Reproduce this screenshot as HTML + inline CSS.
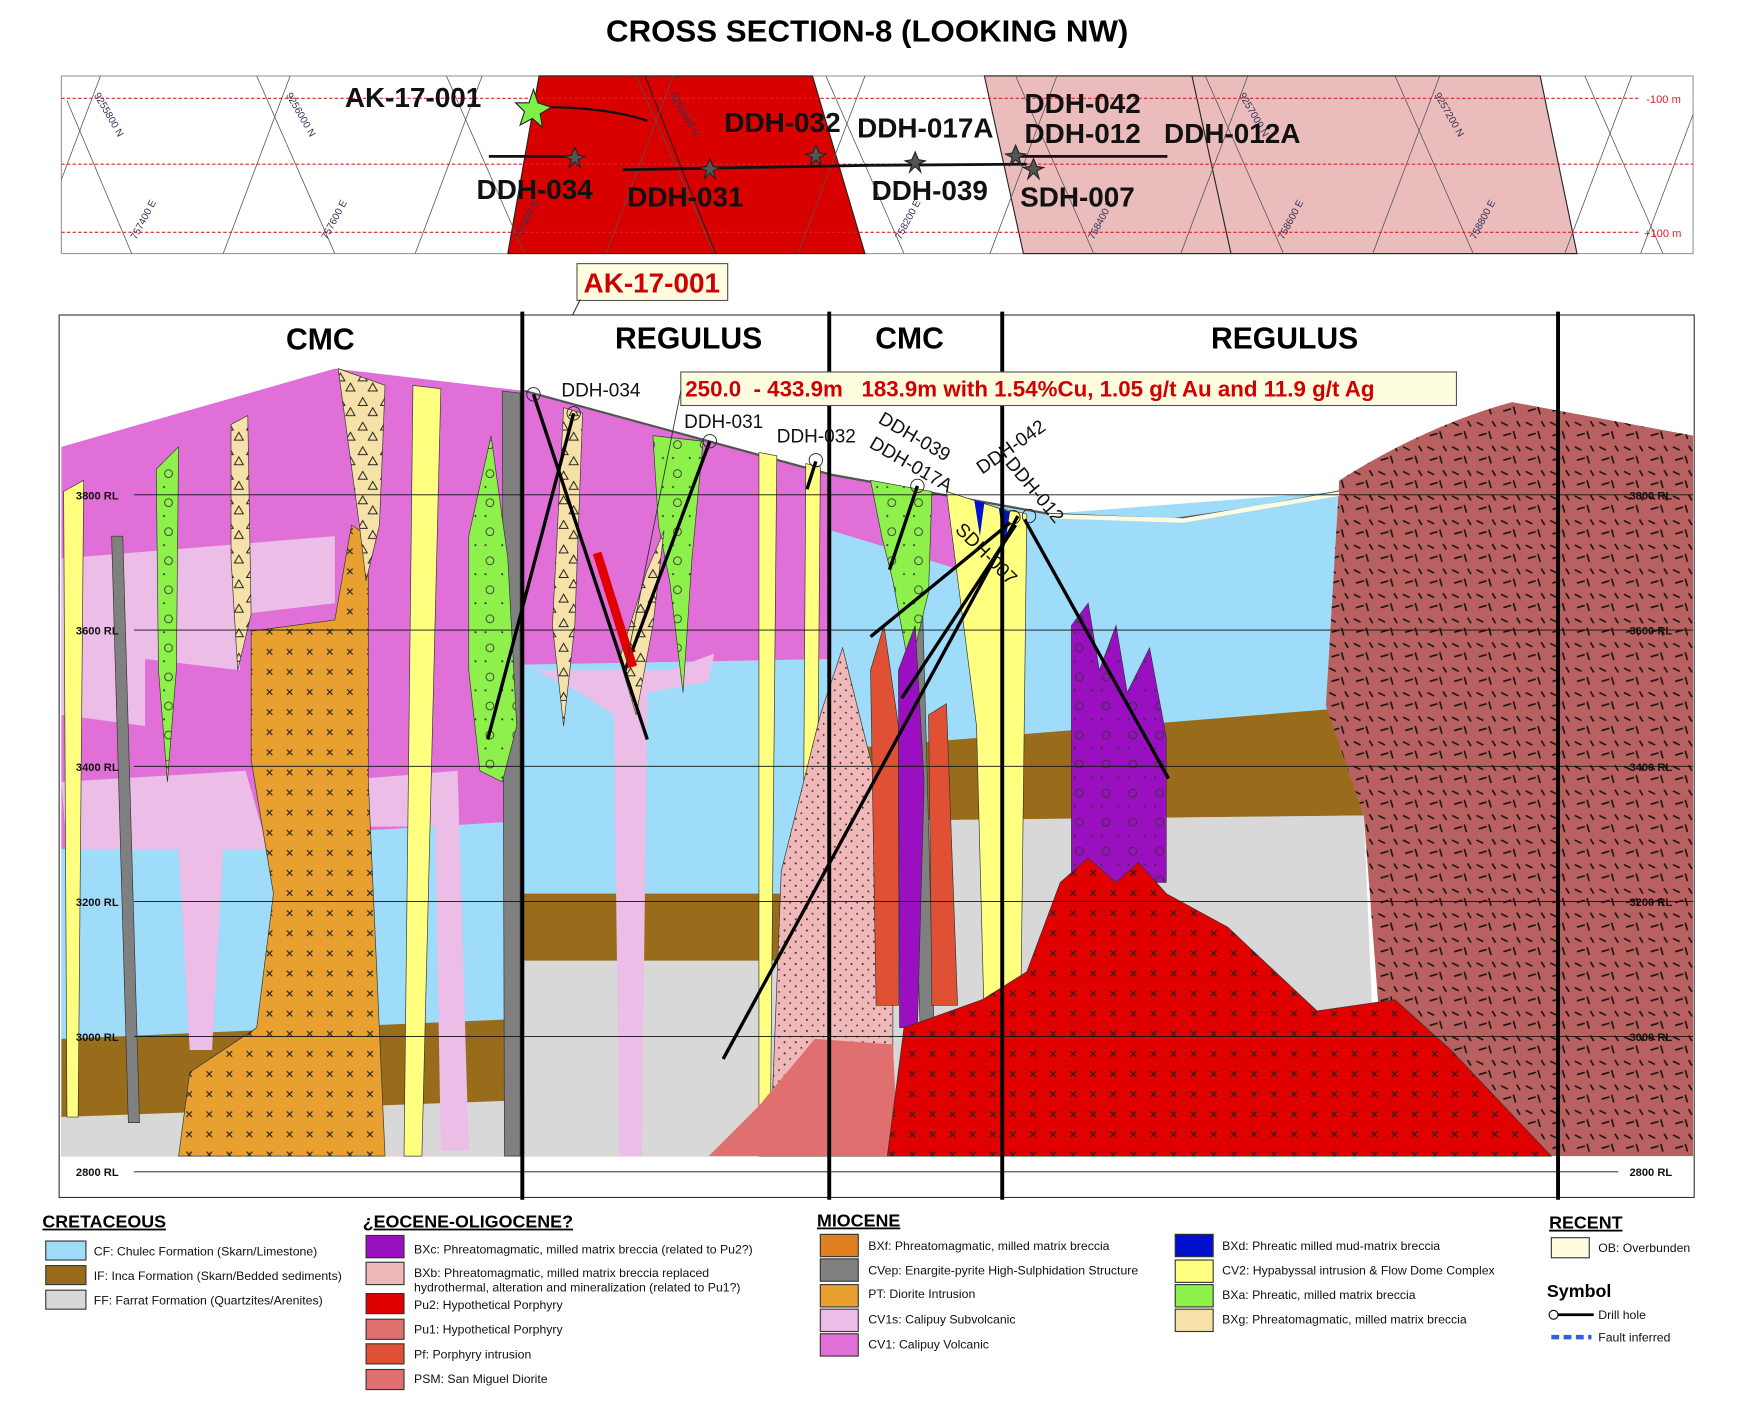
<!DOCTYPE html>
<html><head><meta charset="utf-8"><style>
html,body{margin:0;padding:0;background:#fff;width:1750px;height:1403px;overflow:hidden}
svg{display:block;font-family:"Liberation Sans",sans-serif}
</style></head><body>
<svg width="1750" height="1403" viewBox="0 0 1568 1256" preserveAspectRatio="none" xmlns="http://www.w3.org/2000/svg">
<defs>
<clipPath id="mapclip"><rect x="55" y="68" width="1462" height="159"/></clipPath>
<pattern id="cx" width="18" height="18" patternUnits="userSpaceOnUse"><path d="M5 5l5 5M10 5l-5 5" stroke="#222" stroke-width="1"/></pattern>
<pattern id="ds" width="22" height="22" patternUnits="userSpaceOnUse"><path d="M3 4l6 3M14 12l2 7M5 16l7-2M17 3l3 5" stroke="#111" stroke-width="1.4"/></pattern>
<pattern id="dt" width="10" height="10" patternUnits="userSpaceOnUse"><circle cx="3" cy="3" r="0.9" fill="#333"/><circle cx="8" cy="8" r="0.8" fill="#333"/></pattern>
<pattern id="tr" width="20" height="22" patternUnits="userSpaceOnUse"><path d="M5 4l4 7h-8z M14 13l4 7h-8z" fill="none" stroke="#222" stroke-width="0.9"/></pattern>
<pattern id="ci" width="24" height="26" patternUnits="userSpaceOnUse"><circle cx="7" cy="8" r="3.5" fill="none" stroke="#333" stroke-width="0.8"/><circle cx="18" cy="20" r="0.9" fill="#333"/><circle cx="3" cy="20" r="0.9" fill="#333"/></pattern>
</defs>

<text x="777" y="37" text-anchor="middle" font-size="27" font-weight="bold" textLength="468" lengthAdjust="spacingAndGlyphs">CROSS SECTION-8 (LOOKING NW)</text>

<!-- top map -->
<rect x="55" y="68" width="1462" height="159" fill="#fff" stroke="#999"/>
<polygon points="483,68 728,68 775,227 455,227" fill="#d90000" stroke="#222"/>
<line x1="578" y1="68" x2="641" y2="227" stroke="#222"/>
<polygon points="882,68 1380,68 1413,227 917,227" fill="#ebbcbc" stroke="#222"/>
<line x1="1068" y1="68" x2="1103" y2="227" stroke="#222"/>
<g stroke="#555" stroke-width="0.7" fill="none" clip-path="url(#mapclip)">
<path d="M90,68 L30,227 M260,68 L200,227 M432,68 L372,227 M603,68 L543,227 M775,68 L715,227 M947,68 L887,227 M1118,68 L1058,227 M1290,68 L1230,227 M1462,68 L1402,227 M1530,68 L1470,227"/>
<path d="M60,90 L118,227 M230,68 L300,227 M400,68 L470,227 M570,68 L640,227 M740,68 L810,227 M910,68 L980,227 M1080,68 L1150,227 M1250,68 L1320,227 M1420,68 L1490,227"/>
</g>
<g stroke="#e02020" stroke-width="1" stroke-dasharray="3,2"><line x1="55" y1="88" x2="1470" y2="88"/><line x1="55" y1="147" x2="1517" y2="147"/><line x1="55" y1="208" x2="1470" y2="208"/></g>
<text x="1475" y="92" font-size="10" fill="#e02020">-100 m</text><text x="1473" y="212" font-size="10" fill="#e02020">+100 m</text>
<g font-size="9" fill="#335">
<text transform="translate(84,85) rotate(60)">9255800 N</text><text transform="translate(256,85) rotate(60)">9256000 N</text><text transform="translate(600,85) rotate(60)">9256400 N</text><text transform="translate(1110,85) rotate(60)">9257000 N</text><text transform="translate(1285,85) rotate(60)">9257200 N</text>
<text transform="translate(122,215) rotate(-62)">757400 E</text><text transform="translate(293,215) rotate(-62)">757600 E</text><text transform="translate(465,215) rotate(-62)">757800 E</text><text transform="translate(807,215) rotate(-62)">758200 E</text><text transform="translate(980,215) rotate(-62)">758400 E</text><text transform="translate(1150,215) rotate(-62)">758600 E</text><text transform="translate(1322,215) rotate(-62)">758800 E</text>
</g>
<g stroke="#111" stroke-width="2.5" fill="none">
<line x1="438" y1="140" x2="515" y2="140"/><line x1="558" y1="152" x2="780" y2="148"/><line x1="780" y1="148" x2="920" y2="147"/><line x1="910" y1="140" x2="1046" y2="140"/>
<path d="M478,96 Q540,95 580,108" stroke-width="2"/>
</g>
<polygon points="478,80 482,92 494,96 484,102 486,114 477,106 466,112 470,100 462,92 474,92" fill="#7ef04a" stroke="#222"/>
<g fill="#555" stroke="#222"><polygon points="515,132 518,139 524,140 518,143 520,150 515,145 510,150 512,143 506,140 512,139"/><polygon points="636,142 639,149 645,150 639,153 641,160 636,155 631,160 633,153 627,150 633,149"/><polygon points="731,130 734,137 740,138 734,141 736,148 731,143 726,148 728,141 722,138 728,137"/><polygon points="820,136 823,143 829,144 823,147 825,154 820,149 815,154 817,147 811,144 817,143"/><polygon points="910,130 913,137 919,138 913,141 915,148 910,143 905,148 907,141 901,138 907,137"/><polygon points="926,142 929,149 935,150 929,153 931,160 926,155 921,160 923,153 917,150 923,149"/></g>
<g font-size="25" font-weight="bold" fill="#111">
<text x="309" y="96">AK-17-001</text><text x="649" y="118">DDH-032</text><text x="768" y="123">DDH-017A</text><text x="918" y="101">DDH-042</text><text x="918" y="128">DDH-012</text><text x="1043" y="128">DDH-012A</text>
<text x="427" y="178">DDH-034</text><text x="562" y="185">DDH-031</text><text x="781" y="179">DDH-039</text><text x="914" y="185">SDH-007</text>
</g>

<!-- AK box -->
<rect x="517" y="236" width="135" height="33" fill="#fffde0" stroke="#555"/>
<text x="584" y="262" text-anchor="middle" font-size="25" font-weight="bold" fill="#d00000">AK-17-001</text>
<line x1="520" y1="268" x2="478" y2="352" stroke="#333"/>

<!-- section -->
<rect x="53" y="282" width="1465" height="790" fill="#fff" stroke="#333"/>
<!-- base layers left part -->
<polygon points="55,400 300,330 470,350 745,425 745,1035 55,1035" fill="#e070d8"/>
<polygon points="55,760 300,745 468,735 468,1035 55,1035" fill="#9edcfa"/>
<polygon points="468,595 745,590 745,1035 468,1035" fill="#9edcfa"/>
<polygon points="55,930 468,912 468,1035 55,1035" fill="#996c1c"/>
<polygon points="468,800 745,800 745,1035 468,1035" fill="#996c1c"/>
<polygon points="55,1000 468,985 468,1035 55,1035" fill="#d8d8d8"/>
<polygon points="468,860 745,860 745,1035 468,1035" fill="#d8d8d8"/>
<!-- pink CV1s patches -->
<path d="M55,500 L300,480 L300,540 L215,550 L215,600 L130,590 L130,650 L55,640 Z" fill="#ecbde6"/>
<path d="M55,700 L220,690 L240,760 L200,760 L190,940 L170,940 L160,760 L60,760 Z" fill="#ecbde6"/>
<path d="M290,700 L410,690 L420,1030 L395,1030 L390,740 L300,740 Z" fill="#ecbde6"/>
<path d="M480,600 L600,600 L640,585 L635,610 L580,620 L575,1035 L555,1035 L550,640 L520,620 Z" fill="#ecbde6"/>
<!-- right part base -->
<polygon points="745,425 940,460 1200,440 1200,1035 745,1035" fill="#9edcfa"/>
<polygon points="760,670 1190,635 1222,730 760,735" fill="#996c1c"/>
<polygon points="760,735 1222,730 1235,1035 760,1035" fill="#d8d8d8"/>
<polygon points="745,425 860,445 860,510 745,475" fill="#e070d8"/>
<!-- far right -->
<path d="M1200,430 Q1280,380 1355,360 L1517,390 L1517,1035 L1390,1035 L1235,900 L1222,730 L1188,632 Z" fill="#b96060"/>
<path d="M1200,430 Q1280,380 1355,360 L1517,390 L1517,1035 L1390,1035 L1235,900 L1222,730 L1188,632 Z" fill="url(#ds)"/>
<!-- ground line / OB -->
<path d="M470,350 L745,425 L940,460 L1050,465 L1120,455 L1200,440" fill="none" stroke="#555" stroke-width="2"/>
<path d="M940,462 L1060,466 L1200,442" fill="none" stroke="#fffde0" stroke-width="4"/>
<!-- PT diorite -->
<path d="M225,565 L300,555 L315,470 L330,480 L330,700 L345,1035 L160,1035 L170,960 L230,920 L245,800 L225,680 Z" fill="#e8a030" stroke="#333" stroke-width="0.6"/>
<path d="M225,565 L300,555 L315,470 L330,480 L330,700 L345,1035 L160,1035 L170,960 L230,920 L245,800 L225,680 Z" fill="url(#cx)"/>
<!-- yellow CV2 -->
<g fill="#ffff80" stroke="#333" stroke-width="0.6">
<path d="M57,440 L75,430 L70,1000 L60,1000 Z"/>
<path d="M370,345 L395,348 L378,1035 L362,1035 Z"/>
<path d="M680,405 L696,408 L690,1035 L680,1035 Z"/>
<path d="M722,415 L735,418 L730,1035 L718,1035 Z"/>
<path d="M848,440 L895,455 L920,460 L913,1035 L885,1035 L875,650 Z"/>
</g>
<!-- grey CVep -->
<g fill="#808080" stroke="#333" stroke-width="0.6">
<path d="M100,480 L110,480 L125,1005 L115,1005 Z"/>
<path d="M450,350 L466,352 L466,1035 L452,1035 Z"/>
<path d="M812,520 L826,520 L840,1035 L828,1035 Z"/>
</g>
<!-- green BXa -->
<g fill="#8ef04a" stroke="#333" stroke-width="0.6">
<path d="M140,420 L160,400 L158,600 L150,700 L142,600 Z"/>
<path d="M420,480 L440,390 L455,500 L463,650 L450,700 L430,690 L420,600 Z"/>
<path d="M585,390 L630,395 L620,500 L612,620 L600,520 L590,470 Z"/>
<path d="M780,430 L835,440 L832,530 L815,600 L800,520 L790,480 Z"/>
</g>
<g fill="url(#ci)"><path d="M420,480 L440,390 L455,500 L463,650 L450,700 L430,690 L420,600 Z"/><path d="M585,390 L630,395 L620,500 L612,620 L600,520 L590,470 Z"/><path d="M780,430 L835,440 L832,530 L815,600 L800,520 L790,480 Z"/><path d="M140,420 L160,400 L158,600 L150,700 L142,600 Z"/></g>
<!-- tan BXg -->
<g fill="#f6e2a8" stroke="#333" stroke-width="0.6">
<path d="M207,380 L222,372 L225,550 L213,600 L207,500 Z"/>
<path d="M303,330 L345,345 L340,470 L328,520 L322,470 Z"/>
<path d="M505,365 L522,370 L515,560 L505,650 L495,560 Z"/>
<path d="M555,590 L580,510 L595,475 L585,560 L570,640 Z"/>
</g>
<g fill="url(#tr)"><path d="M207,380 L222,372 L225,550 L213,600 L207,500 Z"/><path d="M303,330 L345,345 L340,470 L328,520 L322,470 Z"/><path d="M505,365 L522,370 L515,560 L505,650 L495,560 Z"/><path d="M555,590 L580,510 L595,475 L585,560 L570,640 Z"/></g>
<!-- pink BXb -->
<path d="M700,780 L735,640 L755,580 L775,660 L800,760 L800,1035 L690,1035 Z" fill="#f0b8b8" stroke="#333" stroke-width="0.6"/>
<path d="M700,780 L735,640 L755,580 L775,660 L800,760 L800,1035 L690,1035 Z" fill="url(#dt)"/>
<!-- Pf -->
<g fill="#e05035" stroke="#333" stroke-width="0.6"><path d="M780,600 L792,560 L805,650 L805,900 L785,900 Z"/><path d="M832,640 L848,630 L858,900 L835,900 Z"/></g>
<path d="M805,600 L820,560 L828,700 L822,920 L806,920 Z" fill="#9a10c0" stroke="#333" stroke-width="0.6"/>
<!-- PSM -->
<path d="M635,1035 L680,990 L730,930 L800,935 L805,1035 Z" fill="#e07070"/>
<!-- BXc purple -->
<path d="M960,560 L975,540 L985,600 L1000,560 L1010,620 L1030,580 L1045,660 L1045,790 L960,790 Z" fill="#9a10c0" stroke="#333" stroke-width="0.6"/>
<path d="M960,560 L975,540 L985,600 L1000,560 L1010,620 L1030,580 L1045,660 L1045,790 L960,790 Z" fill="url(#ci)"/>
<!-- blue BXd -->
<polygon points="873,448 882,450 878,480" fill="#0010d0"/><polygon points="895,455 905,458 900,490" fill="#0010d0"/>
<!-- Pu2 -->
<path d="M795,1035 L810,920 L880,895 L920,870 L950,790 L975,768 L1000,790 L1020,772 L1045,800 L1100,830 L1180,905 L1250,895 L1300,940 L1390,1035 Z" fill="#e00000" stroke="#333" stroke-width="0.6"/>
<path d="M795,1035 L810,920 L880,895 L920,870 L950,790 L975,768 L1000,790 L1020,772 L1045,800 L1100,830 L1180,905 L1250,895 L1300,940 L1390,1035 Z" fill="url(#cx)"/>
<!-- RL lines -->
<g stroke="#111" stroke-width="0.8"><line x1="120" y1="443" x2="1517" y2="443"/><line x1="120" y1="564" x2="1517" y2="564"/><line x1="120" y1="686" x2="1517" y2="686"/><line x1="120" y1="807" x2="1517" y2="807"/><line x1="120" y1="928" x2="1517" y2="928"/><line x1="120" y1="1049" x2="1450" y2="1049"/></g>
<g font-size="10" font-weight="bold" fill="#111"><text x="68" y="447">3800 RL</text><text x="68" y="568">3600 RL</text><text x="68" y="690">3400 RL</text><text x="68" y="811">3200 RL</text><text x="68" y="932">3000 RL</text><text x="68" y="1053">2800 RL</text>
<text x="1460" y="447">3800 RL</text><text x="1460" y="568">3600 RL</text><text x="1460" y="690">3400 RL</text><text x="1460" y="811">3200 RL</text><text x="1460" y="932">3000 RL</text><text x="1460" y="1053">2800 RL</text></g>
<!-- vertical zone lines -->
<g stroke="#000" stroke-width="3.5"><line x1="468" y1="279" x2="468" y2="1074"/><line x1="743" y1="279" x2="743" y2="1074"/><line x1="898" y1="279" x2="898" y2="1074"/><line x1="1396" y1="279" x2="1396" y2="1074"/></g>
<g font-size="27" font-weight="bold" text-anchor="middle"><text x="287" y="313">CMC</text><text x="617" y="312">REGULUS</text><text x="815" y="312">CMC</text><text x="1151" y="312">REGULUS</text></g>
<!-- drill holes -->
<g stroke="#000" stroke-width="3" fill="none">
<line x1="478" y1="353" x2="580" y2="662"/>
<line x1="514" y1="370" x2="437" y2="662"/>
<line x1="636" y1="395" x2="560" y2="600"/>
<line x1="731" y1="413" x2="723" y2="438"/>
<line x1="822" y1="435" x2="797" y2="510"/>
<line x1="912" y1="462" x2="648" y2="948"/>
<line x1="905" y1="468" x2="780" y2="570"/>
<line x1="910" y1="470" x2="808" y2="625"/>
<line x1="918" y1="465" x2="1047" y2="697"/>
</g>
<line x1="535" y1="495" x2="567" y2="597" stroke="#e00000" stroke-width="8"/>
<g fill="none" stroke="#222" stroke-width="0.8"><circle cx="478" cy="353" r="6"/><circle cx="514" cy="370" r="6"/><circle cx="636" cy="395" r="6"/><circle cx="731" cy="412" r="6"/><circle cx="822" cy="435" r="6"/><circle cx="908" cy="463" r="6"/><circle cx="922" cy="462" r="6"/></g>
<g font-size="17" fill="#111">
<text x="503" y="355">DDH-034</text><text x="613" y="383">DDH-031</text><text x="696" y="396">DDH-032</text>
<text transform="translate(786,378) rotate(30)">DDH-039</text><text transform="translate(778,400) rotate(30)">DDH-017A</text>
<text transform="translate(880,425) rotate(-35)">DDH-042</text><text transform="translate(900,415) rotate(50)">DDH-012</text>
<text transform="translate(855,475) rotate(45)">SDH-007</text>
</g>
<!-- annotation box -->
<rect x="610" y="333" width="695" height="30" fill="#fffde0" stroke="#555"/>
<text x="614" y="355" font-size="20" font-weight="bold" fill="#d00000" xml:space="preserve">250.0  - 433.9m   183.9m with 1.54%Cu, 1.05 g/t Au and 11.9 g/t Ag</text>
<line x1="610" y1="350" x2="560" y2="600" stroke="#333" stroke-width="0.8"/>

<!-- legend -->
<g font-size="16" font-weight="bold" text-decoration="underline"><text x="38" y="1099">CRETACEOUS</text><text x="325" y="1099">¿EOCENE-OLIGOCENE?</text><text x="732" y="1098">MIOCENE</text><text x="1388" y="1100">RECENT</text></g>
<text x="1386" y="1161" font-size="16" font-weight="bold">Symbol</text>
<g stroke="#333" stroke-width="1">
<rect x="41" y="1111" width="36" height="17" fill="#9edcfa"/><rect x="41" y="1133" width="36" height="17" fill="#996c1c"/><rect x="41" y="1155" width="36" height="17" fill="#d8d8d8"/>
<rect x="328" y="1106" width="34" height="20" fill="#9a10c0"/><rect x="328" y="1130" width="34" height="20" fill="#f0b8b8"/><rect x="328" y="1158" width="34" height="18" fill="#e00000"/><rect x="328" y="1181" width="34" height="18" fill="#e07070"/><rect x="328" y="1203" width="34" height="18" fill="#e05035"/><rect x="328" y="1226" width="34" height="18" fill="#e07070"/>
<rect x="735" y="1105" width="34" height="20" fill="#e08020"/><rect x="735" y="1127" width="34" height="20" fill="#808080"/><rect x="735" y="1150" width="34" height="20" fill="#e8a030"/><rect x="735" y="1172" width="34" height="20" fill="#ecbde6"/><rect x="735" y="1194" width="34" height="20" fill="#e070d8"/>
<rect x="1053" y="1105" width="34" height="20" fill="#0010d0"/><rect x="1053" y="1128" width="34" height="20" fill="#ffff80"/><rect x="1053" y="1150" width="34" height="20" fill="#8ef04a"/><rect x="1053" y="1172" width="34" height="20" fill="#f6e2a8"/>
<rect x="1390" y="1108" width="34" height="18" fill="#fffde0"/>
</g>
<g font-size="11" fill="#111">
<text x="84" y="1124">CF: Chulec Formation (Skarn/Limestone)</text><text x="84" y="1146">IF: Inca Formation (Skarn/Bedded sediments)</text><text x="84" y="1168">FF: Farrat Formation (Quartzites/Arenites)</text>
<text x="371" y="1122">BXc: Phreatomagmatic, milled matrix breccia (related to Pu2?)</text><text x="371" y="1143">BXb: Phreatomagmatic, milled matrix breccia replaced</text><text x="371" y="1156">hydrothermal, alteration and mineralization (related to Pu1?)</text><text x="371" y="1172">Pu2: Hypothetical Porphyry</text><text x="371" y="1194">Pu1: Hypothetical Porphyry</text><text x="371" y="1216">Pf: Porphyry intrusion</text><text x="371" y="1238">PSM: San Miguel Diorite</text>
<text x="778" y="1119">BXf: Phreatomagmatic, milled matrix breccia</text><text x="778" y="1141">CVep: Enargite-pyrite High-Sulphidation Structure</text><text x="778" y="1162">PT: Diorite Intrusion</text><text x="778" y="1185">CV1s: Calipuy Subvolcanic</text><text x="778" y="1207">CV1: Calipuy Volcanic</text>
<text x="1095" y="1119">BXd: Phreatic milled mud-matrix breccia</text><text x="1095" y="1141">CV2: Hypabyssal intrusion &amp; Flow Dome Complex</text><text x="1095" y="1163">BXa: Phreatic, milled matrix breccia</text><text x="1095" y="1185">BXg: Phreatomagmatic, milled matrix breccia</text>
<text x="1432" y="1121">OB: Overbunden</text><text x="1432" y="1181">Drill hole</text><text x="1432" y="1201">Fault inferred</text>
</g>
<line x1="1390" y1="1177" x2="1428" y2="1177" stroke="#000" stroke-width="2.5"/><circle cx="1392" cy="1177" r="4" fill="#fff" stroke="#000"/>
<line x1="1390" y1="1197" x2="1426" y2="1197" stroke="#3060e0" stroke-width="4" stroke-dasharray="7,4"/>
</svg>
</body></html>
